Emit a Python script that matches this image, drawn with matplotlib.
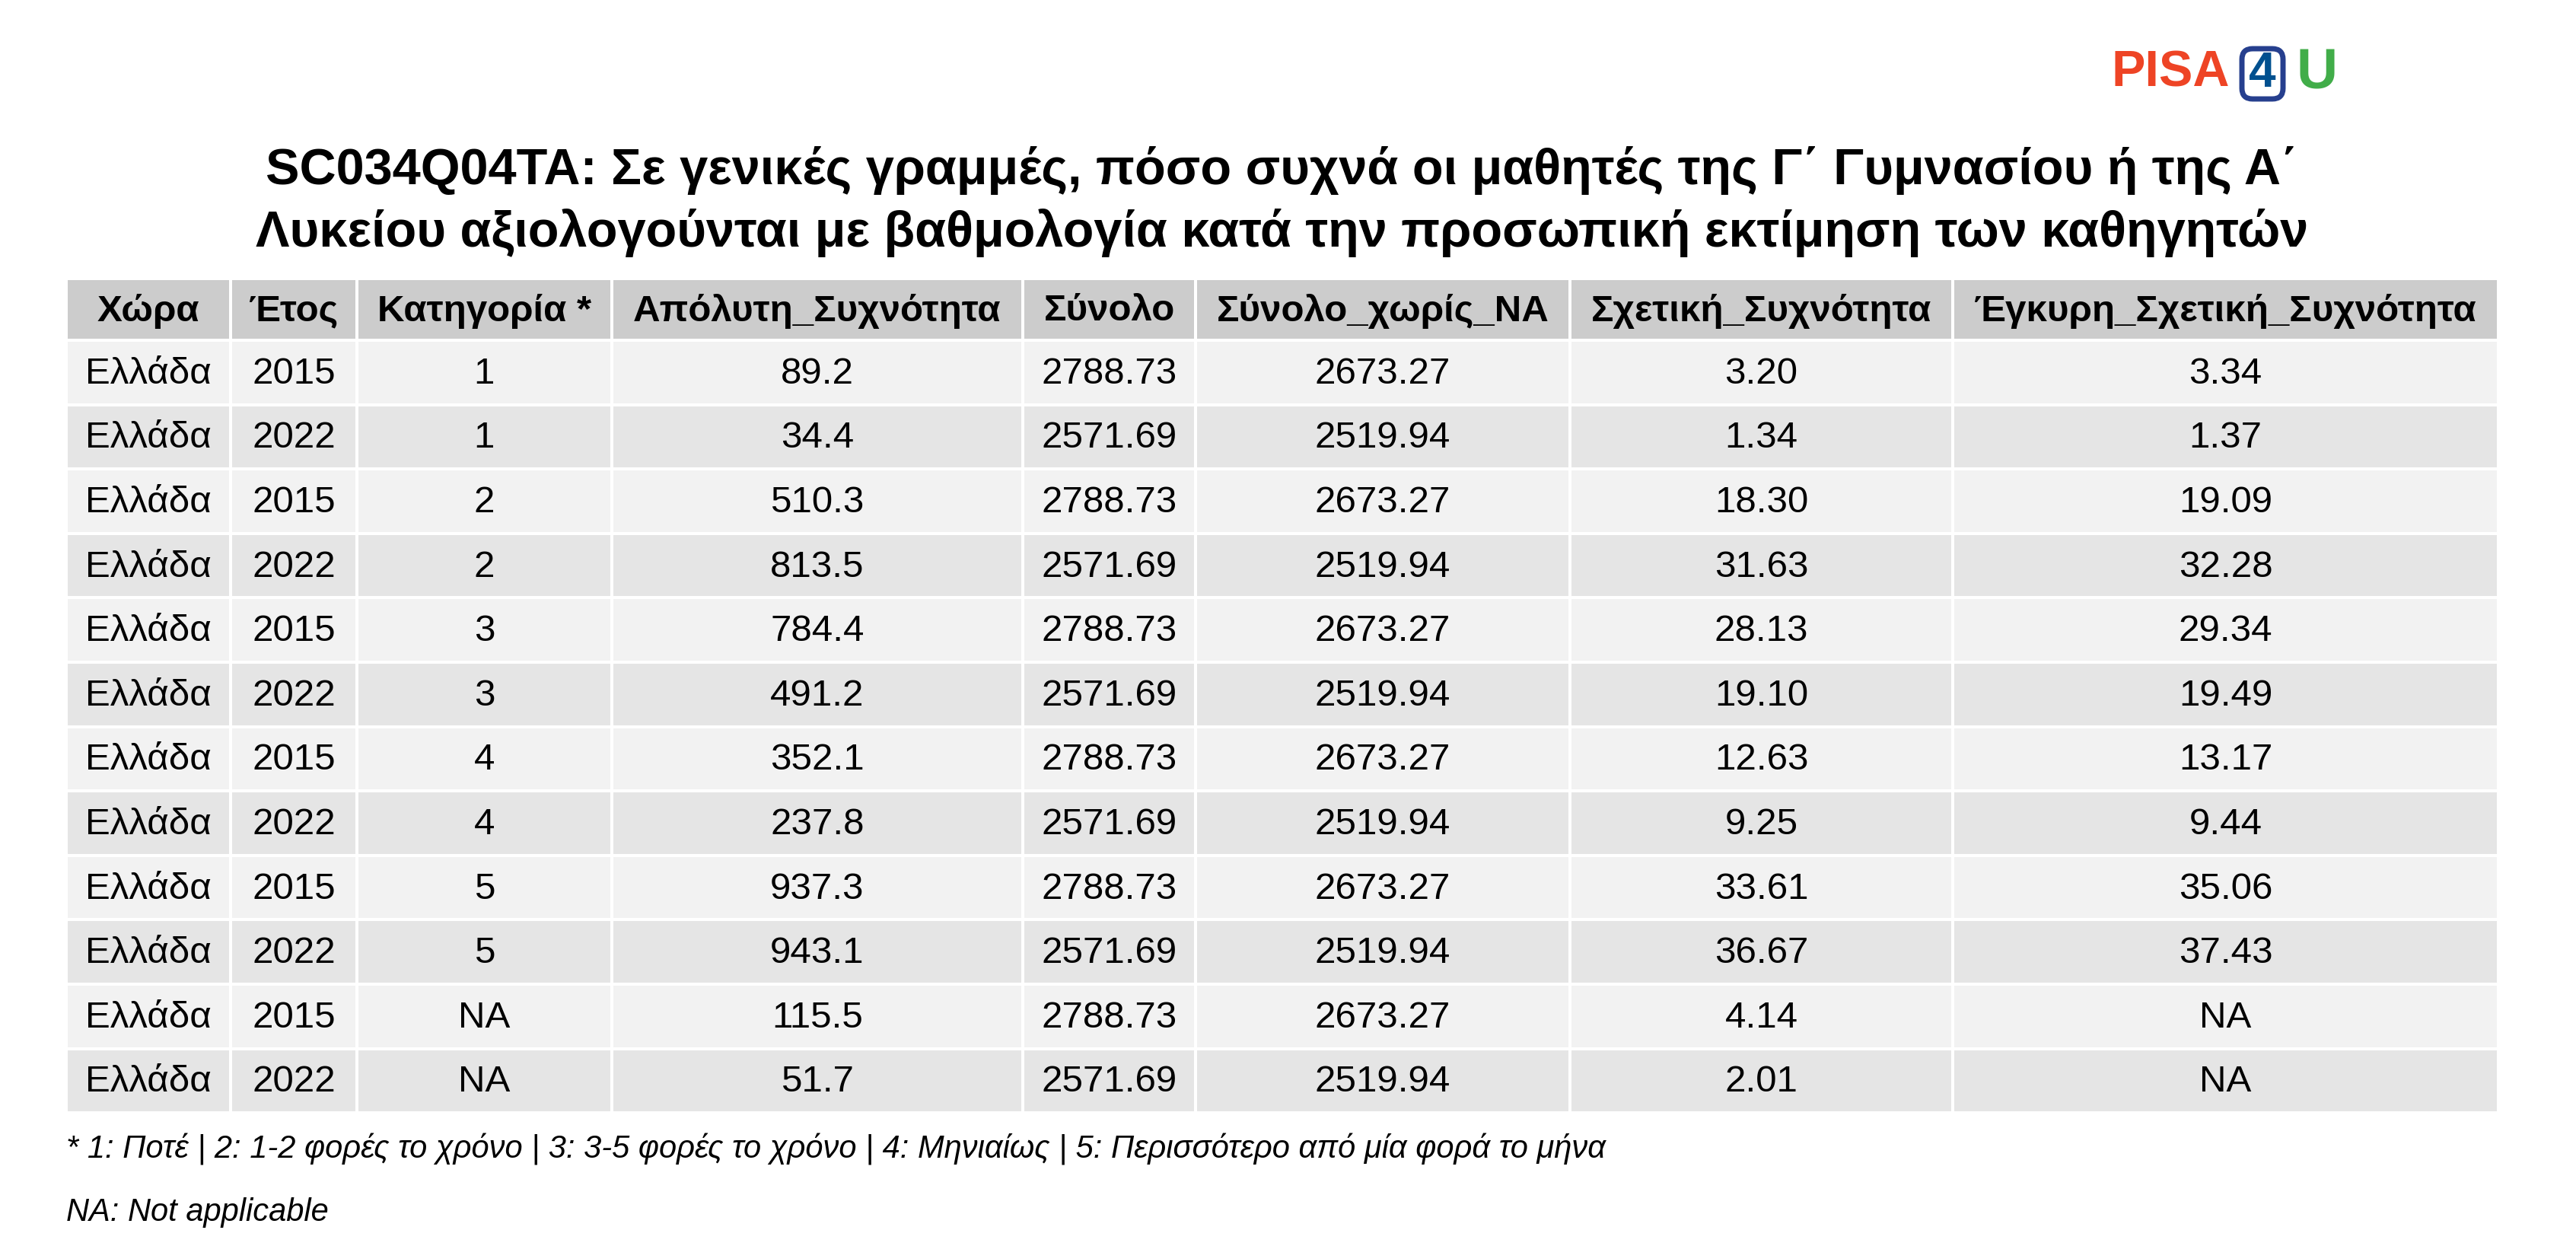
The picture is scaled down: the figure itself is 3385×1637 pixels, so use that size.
import matplotlib
matplotlib.use("Agg")
import matplotlib.pyplot as plt
from matplotlib.patches import Rectangle, FancyBboxPatch

plt.rcParams["font.family"] = ["Liberation Sans", "DejaVu Sans"]

# table data
headers = ["Χώρα", "Έτος", "Κατηγορία *", "Απόλυτη_Συχνότητα", "Σύνολο",
           "Σύνολο_χωρίς_NA", "Σχετική_Συχνότητα", "Έγκυρη_Σχετική_Συχνότητα"]
country = ["Ελλάδα"] * 12
year = ["2015", "2022"] * 6
category = ["1", "1", "2", "2", "3", "3", "4", "4", "5", "5", "NA", "NA"]
abs_freq = ["89.2", "34.4", "510.3", "813.5", "784.4", "491.2", "352.1", "237.8",
            "937.3", "943.1", "115.5", "51.7"]
total = ["2788.73", "2571.69"] * 6
total_no_na = ["2673.27", "2519.94"] * 6
rel_freq = ["3.20", "1.34", "18.30", "31.63", "28.13", "19.10", "12.63", "9.25",
            "33.61", "36.67", "4.14", "2.01"]
valid_rel = ["3.34", "1.37", "19.09", "32.28", "29.34", "19.49", "13.17", "9.44",
             "35.06", "37.43", "NA", "NA"]

title = ("SC034Q04TA: Σε γενικές γραμμές, πόσο συχνά οι μαθητές της Γ΄ Γυμνασίου ή της Α΄\n"
         "Λυκείου αξιολογούνται με βαθμολογία κατά την προσωπική εκτίμηση των καθηγητών")
note1 = "* 1: Ποτέ | 2: 1-2 φορές το χρόνο | 3: 3-5 φορές το χρόνο | 4: Μηνιαίως | 5: Περισσότερο από μία φορά το μήνα"
note2 = "NA: Not applicable"

W, H = 3385, 1637
fig = plt.figure(figsize=(W / 100, H / 100), dpi=100)
ax = fig.add_axes([0, 0, 1, 1])
ax.set_xlim(0, W)
ax.set_ylim(H, 0)
ax.axis("off")

col_edges = [87, 304, 471, 807, 1350, 1578, 2072, 2578, 3298]
col_edges = [87 + (c - 87) * (3283 - 87) / (3298 - 87) for c in col_edges]
top, head_h, row_h = 366, 81, 84.6
gap = 4

cols = [country, year, category, abs_freq, total, total_no_na, rel_freq, valid_rel]
rows = list(zip(*cols))

def cell(x0, x1, y0, h, color, text, bold=False):
    ax.add_patch(Rectangle((x0 + gap / 2, y0 + gap / 2), x1 - x0 - gap, h - gap,
                           facecolor=color, edgecolor="none"))
    ax.text((x0 + x1) / 2, y0 + h / 2 + 2, text, ha="center", va="center",
            fontsize=35.5, fontweight="bold" if bold else "normal", color="black")

for j, hd in enumerate(headers):
    cell(col_edges[j], col_edges[j + 1], top, head_h, "#CCCCCC", hd, bold=True)

for i, r in enumerate(rows):
    y0 = top + head_h + i * row_h
    color = "#F2F2F2" if i % 2 == 0 else "#E5E5E5"
    for j, v in enumerate(r):
        cell(col_edges[j], col_edges[j + 1], y0, row_h, color, v)

ax.text(W / 2 - 8, 265, title, ha="center", va="center", fontsize=48,
        fontweight="bold", linespacing=1.35)

ax.text(87, 1510, note1, ha="left", va="center", fontsize=30, style="italic")
ax.text(87, 1593, note2, ha="left", va="center", fontsize=30, style="italic")

# logo
ax.text(2930, 97, "PISA", ha="right", va="center", fontsize=48, fontweight="bold",
        color="#EE4425")
ax.add_patch(FancyBboxPatch((2950, 68), 46, 58, boxstyle="round,pad=4,rounding_size=14",
                            facecolor="white", edgecolor="#263F8E", linewidth=5))
ax.text(2973, 97, "4", ha="center", va="center", fontsize=46, fontweight="bold",
        color="#00508F")
ax.text(3018, 97, "U", ha="left", va="center", fontsize=54, fontweight="bold",
        color="#41AD49")

fig.savefig("out.png", dpi=100, facecolor="white")
